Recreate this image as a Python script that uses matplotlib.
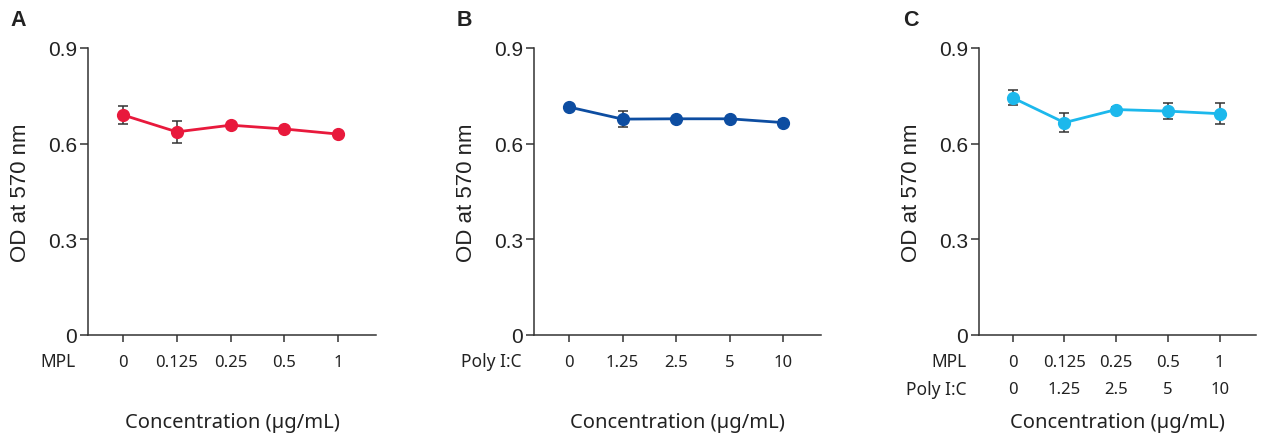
import numpy as np
import matplotlib
matplotlib.use('Agg')
import matplotlib.pyplot as plt

# valores
mpl_labels = ['0', '0.125', '0.25', '0.5', '1']
pic_labels = ['0', '1.25', '2.5', '5', '10']

od_mpl = [0.690, 0.637, 0.658, 0.646, 0.630]
err_mpl = [0.027, 0.035, 0.0, 0.0, 0.0]

od_pic = [0.715, 0.677, 0.678, 0.678, 0.666]
err_pic = [0.0, 0.025, 0.0, 0.006, 0.007]

od_combo = [0.744, 0.666, 0.707, 0.702, 0.694]
err_combo = [0.024, 0.030, 0.008, 0.025, 0.033]

cores = ['#E8193C', '#0D4DA1', '#1CB8EC']
eixo_cor = '#333333'
txt_cor = '#222222'
fonte_num = 'Liberation Sans'
fonte_txt = 'Noto Sans'

fig = plt.figure(figsize=(12.66, 4.35), dpi=100)
posicoes = [
    [88 / 1266, 99 / 435, 288 / 1266, 287 / 435],
    [534 / 1266, 99 / 435, 287 / 1266, 287 / 435],
    [979 / 1266, 99 / 435, 277 / 1266, 287 / 435],
]
dados = [(od_mpl, err_mpl), (od_pic, err_pic), (od_combo, err_combo)]
rotulos = [mpl_labels, pic_labels, mpl_labels]
linhas = ['MPL', 'Poly I:C', 'MPL']
letras = ['A', 'B', 'C']
letra_x = [10, 457, 903]

for i in range(3):
    ax = fig.add_axes(posicoes[i])
    y, e = dados[i]
    x = np.arange(len(y))
    ax.errorbar(x, y, yerr=e, fmt='none', ecolor=eixo_cor, elinewidth=1.1,
                capsize=3.5, capthick=1.1, zorder=2)
    ax.plot(x, y, color=cores[i], lw=2, marker='o', ms=8.5, zorder=3)

    ax.set_ylim(0, 0.9)
    ax.set_xlim(-0.65, 4.7)
    ax.set_yticks([0, 0.3, 0.6, 0.9])
    ax.set_yticklabels(['0', '0.3', '0.6', '0.9'], fontsize=15, family=fonte_num,
                       color=txt_cor)
    ax.set_xticks(x)
    ax.set_xticklabels(rotulos[i], fontsize=12, family=fonte_txt, color=txt_cor)
    for s in ['top', 'right']:
        ax.spines[s].set_visible(False)
    for s in ['left', 'bottom']:
        ax.spines[s].set_color(eixo_cor)
        ax.spines[s].set_linewidth(1.1)
    ax.tick_params(axis='y', length=6, width=1.1, color=eixo_cor, pad=2)
    ax.tick_params(axis='x', length=5, width=1.1, color=eixo_cor, pad=9)
    ax.set_ylabel('OD at 570 nm', fontsize=16, family=fonte_num, color=txt_cor,
                  labelpad=12)

    # rótulo da linha de categorias
    ax.annotate(linhas[i], xy=(0, 0), xycoords='axes fraction', xytext=(-9, -19),
                textcoords='offset points', ha='right', va='center',
                fontsize=12.5, family=fonte_txt, color=txt_cor)
    if i == 2:
        for xi, lab in zip(x, pic_labels):
            ax.annotate(lab, xy=(xi, 0), xycoords=('data', 'axes fraction'),
                        xytext=(0, -38.8), textcoords='offset points', ha='center',
                        va='center', fontsize=12, family=fonte_txt, color=txt_cor)
        ax.annotate('Poly I:C', xy=(0, 0), xycoords='axes fraction', xytext=(-9, -38.8),
                    textcoords='offset points', ha='right', va='center',
                    fontsize=12.5, family=fonte_txt, color=txt_cor)

    ax.annotate('Concentration (µg/mL)', xy=(0.5, 0), xycoords='axes fraction',
                xytext=(0, -62.5), textcoords='offset points', ha='center', va='center',
                fontsize=14.5, family=fonte_txt, color=txt_cor)

    fig.text(letra_x[i] / 1266, 1 - 20 / 435, letras[i], fontsize=15.5, fontweight='bold',
             family=fonte_num, color=txt_cor, va='center', ha='left')

fig.savefig('out.png', dpi=100)
